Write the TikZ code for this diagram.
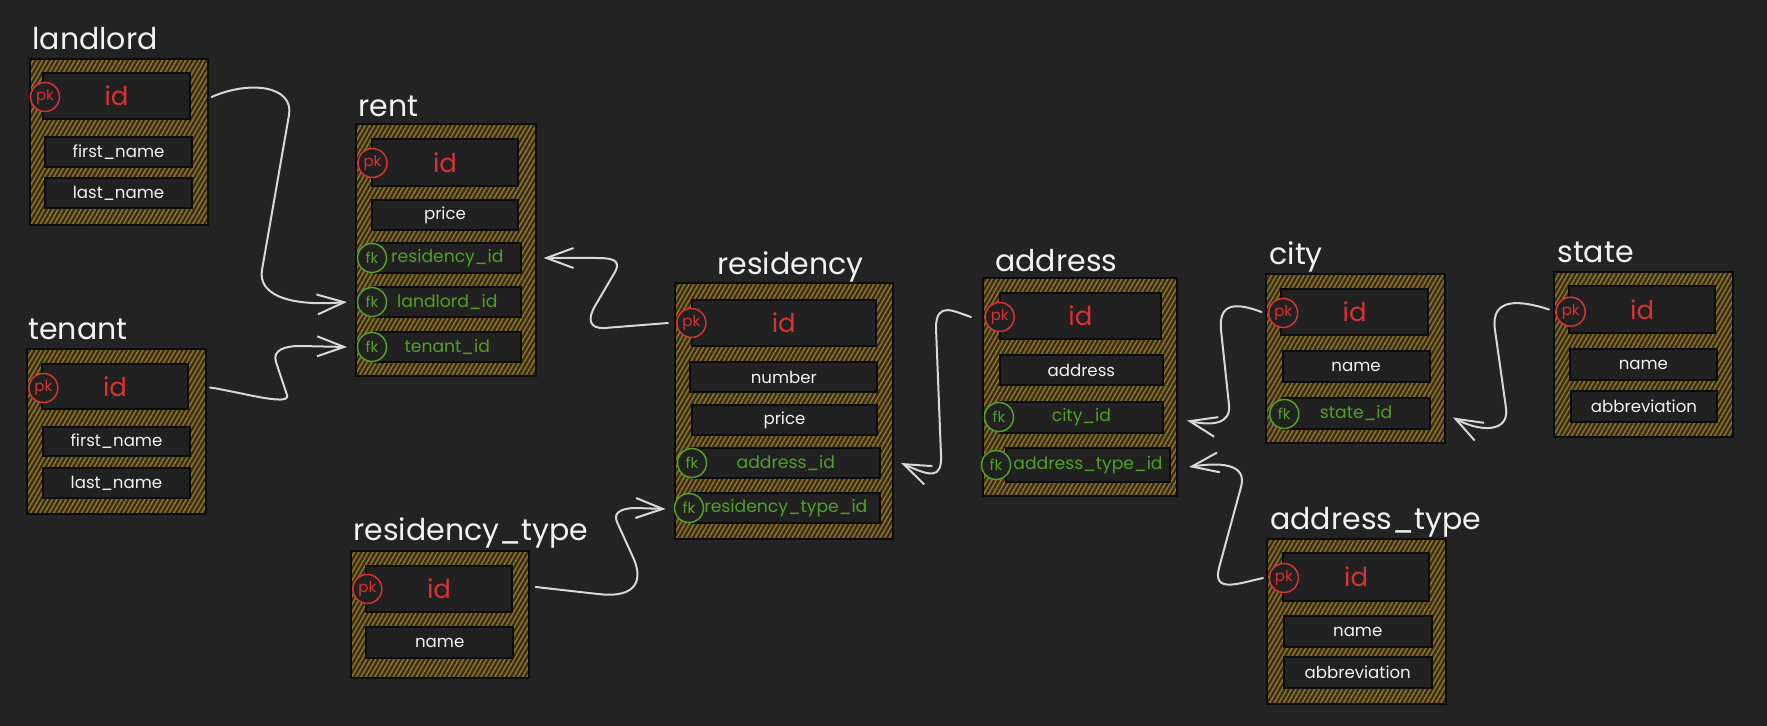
\documentclass[tikz,border=0pt]{standalone}
\usepackage{fontspec}
\setmainfont{Poppins}
\usetikzlibrary{patterns.meta,arrows.meta,calc}
\definecolor{bgc}{HTML}{232323}
\definecolor{cellfill}{HTML}{212121}
\definecolor{cellline}{HTML}{0C0C0C}
\definecolor{hatchbg}{HTML}{332E1D}
\definecolor{hatchc}{HTML}{947220}
\definecolor{redc}{HTML}{D83232}
\definecolor{greenc}{HTML}{52A028}
\definecolor{linkc}{HTML}{D8D8D8}
\definecolor{textc}{HTML}{F2F2F2}
\tikzset{
  tbl/.style={draw=cellline, line width=1pt, inner sep=0pt, outer sep=0pt,
    preaction={fill=hatchbg},
    pattern={Lines[angle=60,distance=2pt,line width=0.75pt]}, pattern color=hatchc},
  cellbox/.style={draw=cellline, line width=1pt, fill=cellfill, inner sep=0pt, outer sep=0pt,
    text=textc, font=\fontsize{8.3}{10}\selectfont},
  wcell/.style={},
  pkcell/.style={text=redc, font=\fontsize{13}{15}\selectfont},
  fkcell/.style={text=greenc, font=\fontsize{8.6}{10}\selectfont},
  pkbadge/.style={circle, draw=redc, line width=0.75pt, fill=cellfill, minimum size=14.5pt,
    inner sep=0pt, text=redc, font=\fontsize{7.5}{8}\selectfont},
  fkbadge/.style={circle, draw=greenc, line width=0.75pt, fill=cellfill, minimum size=14.5pt,
    inner sep=0pt, text=greenc, font=\fontsize{7.5}{8}\selectfont},
  ttl/.style={anchor=base west, text=textc, inner sep=0pt, font=\fontsize{15}{18}\selectfont},
  link/.style={draw=linkc, line width=1pt, line cap=round, line join=round,
    -{Straight Barb[length=13.5pt,width=10pt]}},
}
\newcommand\tblbox[5]{\node[tbl, minimum width={(#4-#2)*0.5pt}, minimum height={(#5-#3)*0.5pt}] (#1) at ({(#2+#4)/2},{(#3+#5)/2}) {};}
\newcommand\cell[7]{\node[cellbox,#6, minimum width={(#4-#2)*0.5pt}, minimum height={(#5-#3)*0.5pt}] (#1) at ({(#2+#4)/2},{(#3+#5)/2}) {#7};}
\newcommand\badge[4]{\node[#4badge] (#1) at (#2,#3) {#4};}
\begin{document}
\begin{tikzpicture}[x=0.5pt,y=-0.5pt]
\useasboundingbox (0,0) rectangle (1767,726);
\fill[bgc] (0,0) rectangle (1767,726);

% ---------- landlord
\node[ttl] (t-landlord) at (32,50) {landlord};
\tblbox{landlord}{29.5}{59}{207.6}{225}
\cell{landlord-id}{43}{73}{190}{119}{pkcell}{id}
\cell{landlord-first}{45}{137}{192}{167}{wcell}{first\_name}
\cell{landlord-last}{45}{178}{192}{208}{wcell}{last\_name}
\badge{b-landlord-id}{45}{97}{pk}

% ---------- rent
\node[ttl] (t-rent) at (358,117) {rent};
\tblbox{rent}{356}{124}{535.6}{376}
\cell{rent-id}{372}{139}{518}{186}{pkcell}{id}
\cell{rent-price}{372}{200}{518}{230}{wcell}{price}
\cell{rent-residencyid}{373.6}{243}{521}{273}{fkcell}{residency\_id}
\cell{rent-landlordid}{373.6}{287}{521}{317}{fkcell}{landlord\_id}
\cell{rent-tenantid}{373.6}{332}{521}{362}{fkcell}{tenant\_id}
\badge{b-rent-id}{372.5}{163}{pk}
\badge{b-rent-res}{372}{258}{fk}
\badge{b-rent-land}{372}{302}{fk}
\badge{b-rent-ten}{372}{347}{fk}

% ---------- tenant
\node[ttl] (t-tenant) at (28,340) {tenant};
\tblbox{tenant}{27}{349}{206}{514}
\cell{tenant-id}{42}{364}{188}{409}{pkcell}{id}
\cell{tenant-first}{43.4}{427}{189.5}{456}{wcell}{first\_name}
\cell{tenant-last}{43.4}{468}{189.5}{498}{wcell}{last\_name}
\badge{b-tenant-id}{43.4}{388}{pk}

% ---------- residency_type
\node[ttl] (t-restype) at (353,541) {residency\_type};
\tblbox{restype}{351}{551}{529}{678}
\cell{restype-id}{366.4}{566}{511.7}{612}{pkcell}{id}
\cell{restype-name}{366.4}{627}{513}{658}{wcell}{name}
\badge{b-restype-id}{367.3}{589}{pk}

% ---------- residency
\node[ttl] (t-residency) at (717,275) {residency};
\tblbox{residency}{674.6}{283}{893}{539}
\cell{residency-id}{692}{300}{875.5}{346}{pkcell}{id}
\cell{residency-number}{690.3}{362}{877.3}{392}{wcell}{number}
\cell{residency-price}{692}{405}{877}{435}{wcell}{price}
\cell{residency-addressid}{692}{448}{879.7}{478}{fkcell}{address\_id}
\cell{residency-rtid}{692}{493}{879.7}{523}{fkcell}{residency\_type\_id}
\badge{b-residency-id}{691.4}{323}{pk}
\badge{b-residency-addr}{692}{463}{fk}
\badge{b-residency-rt}{689}{508}{fk}

% ---------- address
\node[ttl] (t-address) at (995,272) {address};
\tblbox{address}{983}{278}{1177}{496}
\cell{address-id}{999.7}{293}{1161}{339}{pkcell}{id}
\cell{address-address}{999.7}{355}{1163}{385}{wcell}{address}
\cell{address-cityid}{999.7}{402}{1163}{433}{fkcell}{city\_id}
\cell{address-atid}{1006}{448}{1170}{482}{fkcell}{address\_type\_id}
\badge{b-address-id}{999.7}{317}{pk}
\badge{b-address-city}{999}{417}{fk}
\badge{b-address-at}{996}{465}{fk}

% ---------- city
\node[ttl] (t-city) at (1269,265) {city};
\tblbox{city}{1266}{274}{1445}{443}
\cell{city-id}{1281.4}{289}{1427.8}{335}{pkcell}{id}
\cell{city-name}{1282.5}{351}{1429.7}{382}{wcell}{name}
\cell{city-stateid}{1282.5}{398}{1429.7}{429}{fkcell}{state\_id}
\badge{b-city-id}{1283.2}{313}{pk}
\badge{b-city-state}{1284.3}{414}{fk}

% ---------- state
\node[ttl] (t-state) at (1557,263) {state};
\tblbox{state}{1553.7}{272}{1732.7}{437}
\cell{state-id}{1569}{286}{1715.4}{333}{pkcell}{id}
\cell{state-name}{1569.6}{349}{1717.2}{380}{wcell}{name}
\cell{state-abbr}{1570.7}{391}{1717.2}{422}{wcell}{abbreviation}
\badge{b-state-id}{1570.7}{311.7}{pk}

% ---------- address_type
\node[ttl] (t-addrtype) at (1270,530) {address\_type};
\tblbox{addrtype}{1267}{539}{1446}{704}
\cell{addrtype-id}{1283.2}{553}{1429}{601}{pkcell}{id}
\cell{addrtype-name}{1284}{616}{1431.5}{647}{wcell}{name}
\cell{addrtype-abbr}{1284}{657}{1431.5}{688}{wcell}{abbreviation}
\badge{b-addrtype-id}{1283.9}{578}{pk}

% ---------- connectors
\draw[link] ($(landlord.east |- landlord-id)+(4,1)$)
  .. controls (250,80) and (294,86) .. (289,115) -- (262,270)
  .. controls (258,293) and (285,307) .. ($(rent.west |- rent-landlordid)+(-9,0)$);
\draw[link] ($(tenant.east |- tenant-id)+(4,1)$)
  .. controls (240,392) and (291,407) .. (287,395) -- (276,362)
  .. controls (272,350) and (285,346) .. (300,346) -- ($(rent.west |- rent-tenantid)+(-9,0)$);
\draw[link] ($(residency.west |- residency-id)+(-6.6,0)$) -- (605,328)
  .. controls (588,329) and (588,318) .. (595,306) -- (615,272)
  .. controls (622,259) and (610,258) .. (596,258) -- ($(rent.east |- rent-residencyid)+(8,0)$);
\draw[link] ($(address.west |- address-id)+(-12,1)$)
  .. controls (955,312) and (936,300) .. (936,328) -- (941,455)
  .. controls (942,480) and (930,476) .. ($(residency.east |- residency-addressid)+(8,0)$);
\draw[link] ($(city.west |- city-id)+(-4.5,0)$)
  .. controls (1240,304) and (1218,300) .. (1221,330) -- (1229,405)
  .. controls (1231,424) and (1212,426) .. ($(address.east |- address-cityid)+(10,3)$);
\draw[link] ($(state.west |- state-id)+(-4.7,0)$)
  .. controls (1520,300) and (1490,297) .. (1495,330) -- (1506,408)
  .. controls (1509.5,433) and (1480,432) .. ($(city.east |- city-stateid)+(8,4)$);
\draw[link] ($(addrtype.west |- addrtype-id)+(-4,1)$)
  .. controls (1240,583) and (1212,594) .. (1219,568) -- (1241,487)
  .. controls (1246.5,467) and (1228,461) .. ($(address.east |- address-atid)+(12,2)$);
\draw[link] ($(restype.east |- restype-id)+(6.6,-2)$) -- (598,594)
  .. controls (640,599) and (643,577) .. (632,555) -- (617,522)
  .. controls (612,511) and (625,508) .. (636,508) -- ($(residency.west |- residency-rtid)+(-9,1)$);
\end{tikzpicture}
\end{document}
